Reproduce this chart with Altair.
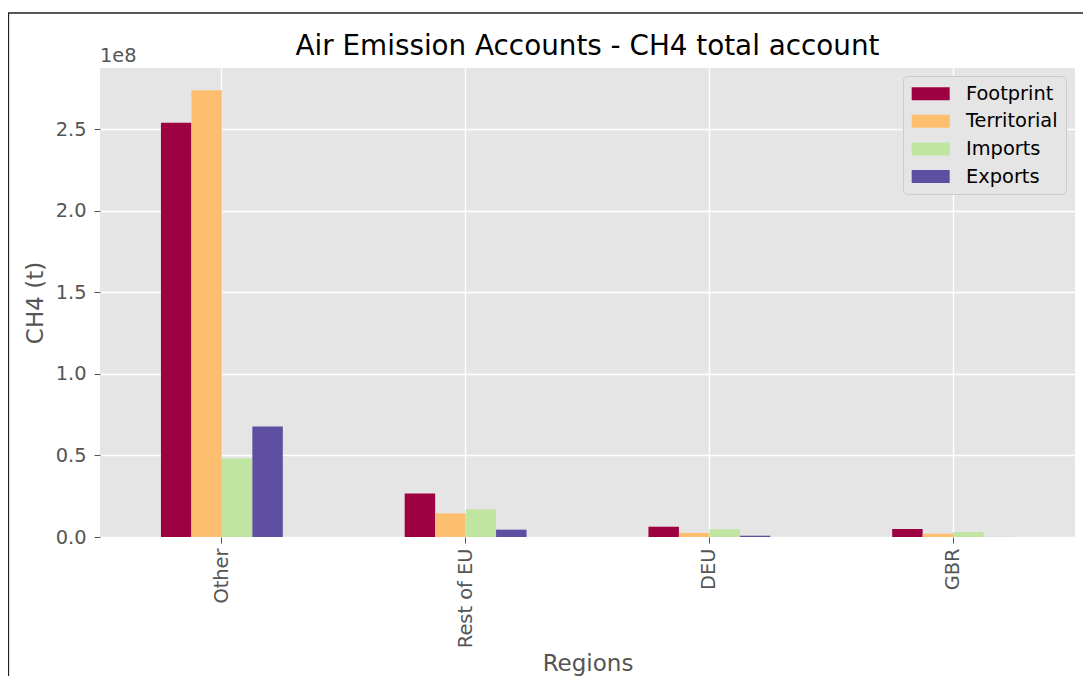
import altair as alt
import pandas as pd

regions = ["Other", "Rest of EU", "DEU", "GBR"]
series = ["Footprint", "Territorial", "Imports", "Exports"]
footprint = [2.538e8, 0.267e8, 0.063e8, 0.049e8]
territorial = [2.737e8, 0.145e8, 0.025e8, 0.020e8]
imports = [0.481e8, 0.169e8, 0.047e8, 0.030e8]
exports = [0.677e8, 0.045e8, 0.008e8, 0.0005e8]
colors = ["#9e0142", "#fdbf6f", "#bfe5a0", "#5e4fa2"]
y_ticks = [0, 0.5e8, 1.0e8, 1.5e8, 2.0e8, 2.5e8]
title_text = "Air Emission Accounts - CH4 total account"

rows = []
for s, vals in zip(series, [footprint, territorial, imports, exports]):
    for r, v in zip(regions, vals):
        rows.append({"Region": r, "Account": s, "Value": v})
df = pd.DataFrame(rows)
ymax = df["Value"].max() * 1.05

FONT = "DejaVu Sans"
TICK_FS = 19.4
legend_path = "M-1.06,-0.765L3.41,-0.765L3.41,0.765L-1.06,0.765Z"

bars = alt.Chart(df).mark_bar(strokeWidth=0).encode(
    x=alt.X(
        "Region:N",
        sort=regions,
        scale=alt.Scale(paddingInner=0.5, paddingOuter=0.25),
        axis=alt.Axis(title="Regions", labelAngle=270, bandPosition=0.5, grid=True,
                      labelPadding=5, titlePadding=5),
    ),
    xOffset=alt.XOffset("Account:N", sort=series,
                        scale=alt.Scale(paddingInner=0, paddingOuter=0)),
    y=alt.Y(
        "Value:Q",
        scale=alt.Scale(domain=[0, ymax], nice=False, zero=True),
        axis=alt.Axis(title="CH4 (t)", values=y_ticks,
                      labelExpr="format(datum.value / 1e8, '.1f')",
                      labelPadding=8, titlePadding=8),
    ),
    color=alt.Color(
        "Account:N",
        sort=series,
        scale=alt.Scale(domain=series, range=colors),
        legend=alt.Legend(
            title=None, orient="none", legendX=803, legendY=8,
            symbolType=legend_path, symbolSize=289, symbolStrokeWidth=0,
            labelOffset=35.6, rowPadding=6.6, padding=8,
            fillColor="#E5E5E5", strokeColor="#CCCCCC", cornerRadius=4,
            labelFont=FONT, labelFontSize=TICK_FS, labelColor="#000000",
        ),
    ),
)

offset_text = alt.Chart(pd.DataFrame({"t": ["1e8"]})).mark_text(
    align="left", baseline="alphabetic", font=FONT, fontSize=TICK_FS, color="#555555"
).encode(x=alt.value(0), y=alt.value(-6), text="t:N")

title_mark = alt.Chart(pd.DataFrame({"t": [title_text]})).mark_text(
    align="center", baseline="alphabetic", font=FONT, fontSize=27.8, color="#000000"
).encode(x=alt.value(487.5), y=alt.value(-13), text="t:N")

border = alt.Chart(pd.DataFrame({"a": [0]})).mark_rect(
    fillOpacity=0, stroke="#222222", strokeWidth=1.3
).encode(x=alt.value(-91.5), x2=alt.value(1200), y=alt.value(-55), y2=alt.value(800))

chart = alt.layer(border, bars, offset_text, title_mark).properties(
    width=975,
    height=469,
    autosize=alt.AutoSizeParams(type="none"),
    padding={"left": 92, "top": 60, "right": 8, "bottom": 139},
).configure_view(
    fill="#E5E5E5", strokeWidth=0
).configure_axis(
    labelFont=FONT, labelFontSize=TICK_FS, labelColor="#555555",
    titleFont=FONT, titleFontSize=23, titleColor="#555555", titleFontWeight="normal",
    tickColor="#555555", tickSize=6, tickWidth=1,
    gridColor="#FFFFFF", gridWidth=1.4, domain=False,
)

chart.save("out.html", embed_options={"renderer": "svg", "actions": False})
